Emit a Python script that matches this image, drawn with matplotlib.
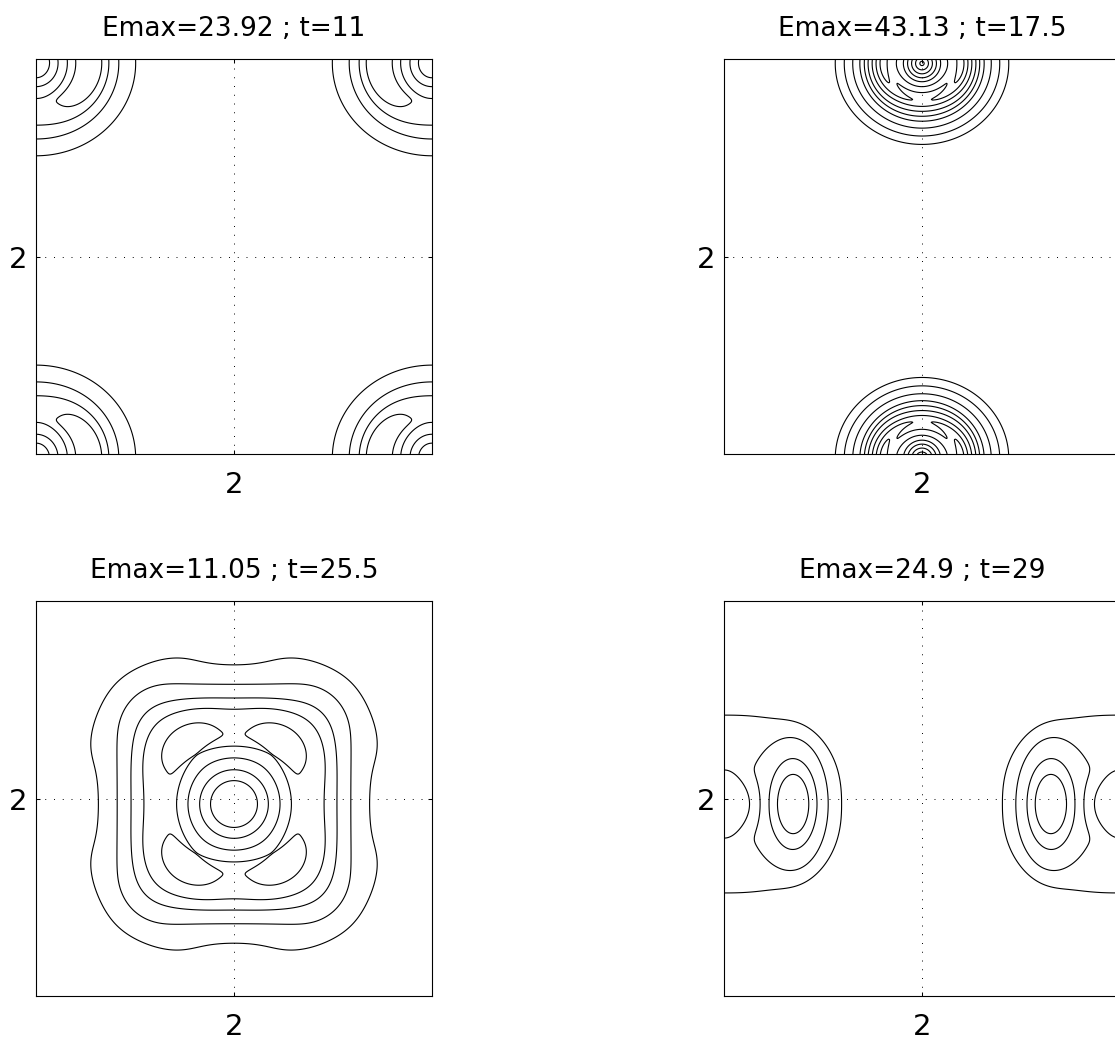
import numpy as np
import matplotlib
matplotlib.use("Agg")
import matplotlib.pyplot as plt

plt.rcParams["font.family"] = ["DejaVu Sans"]

# Snapshot headers
emax_values = [23.92, 43.13, 11.05, 24.9]
time_labels = ["11", "17.5", "25.5", "29"]
tick_values = [2.0]
tick_labels = ["2"]
box = 4.0

# Contour levels of each snapshot
levels_t11 = [0.942, 2.115, 3.506, 4.720, 6.390, 7.767]
levels_t17 = [1.055, 1.647, 2.491, 3.502, 4.365, 5.308, 6.516, 7.774,
              9.103, 10.146, 11.148, 12.263, 13.398, 14.424]
levels_t25 = [0.930, 1.888, 2.897, 3.781, 5.028, 6.167, 7.450, 8.740]
levels_t29 = [0.377, 0.625, 1.456, 2.706]

# Intensity components of each snapshot on the periodic box [0, 4] x [0, 4]
# core  : amplitude, x-width, y-width, exponent
# halo  : amplitude, x-width, y-width, superellipse power, fall-off order
# ring / lobes / bumps / dip : amplitude, radius, radial width,
#                              angular width (rad), angles in degrees (None = full ring)
# blobs : amplitude, x-width, y-width, offsets from the centre
snap_t11 = dict(centre=(0.0, -0.04),
                core=(6.0, 0.28, 0.31, 2.0),
                halo=(3.0, 0.88, 0.82, 2.0, 6.0),
                lobes=(3.0, 0.55, 0.20, 1.2, [0, 180]),
                dip=(1.5, 0.36, 0.05, 1.0, [0, 180]))
snap_t17 = dict(centre=(2.0, -0.045),
                core=(7.7, 0.20, 0.20, 1.5),
                halo=(7.0, 0.62, 0.58, 2.0, 5.0),
                ring=(0.78, 0.39, 0.05, None, None),
                lobes=(2.2, 0.41, 0.12, 0.9, [0, 180]),
                dip=(0.8, 0.325, 0.035, None, None))
snap_t25 = dict(centre=(2.0, 1.944),
                core=(5.5, 0.42, 0.42, 2.2),
                halo=(4.6, 1.12, 1.15, 4.5, 7.0),
                lobes=(1.35, 0.80, 0.20, 0.45, [53, 127, 233, 307]),
                bumps=(0.3, 1.55, 0.2, 0.3, [26, 64, 116, 154, 206, 244, 296, 334]),
                dip=(0.7, 0.63, 0.05, None, None))
snap_t29 = dict(centre=(0.0, 1.944),
                core=(0.55, 0.228, 0.228, 2.0),
                halo=(0.6, 1.3, 1.0, 2.5, 5.0),
                blobs=(4.0, 0.20, 0.38, [(0.70, 0.0), (-0.70, 0.0)]),
                dip=(0.3, 0.33, 0.09, 0.9, [0, 180]))

snapshots = [snap_t11, snap_t17, snap_t25, snap_t29]
levels = [levels_t11, levels_t17, levels_t25, levels_t29]


def wrap(d):
    """Shortest periodic offset inside the box."""
    return (d + box / 2) % box - box / 2


def ring_part(rho, th, spec):
    amp, r0, w, span, angles = spec
    radial = np.exp(-((rho - r0) / w) ** 2)
    if angles is None:
        return amp * radial
    ang = 0.0
    for a in angles:
        gap = np.angle(np.exp(1j * (th - np.deg2rad(a))))
        ang = ang + np.exp(-(gap / span) ** 2)
    return amp * radial * ang


def field(X, Y, spec):
    dx = wrap(X - spec["centre"][0])
    dy = wrap(Y - spec["centre"][1])
    rho = np.hypot(dx, dy)
    th = np.arctan2(dy, dx)
    amp, sx, sy, p = spec["core"]
    f = amp * np.exp(-((dx / sx) ** 2 + (dy / sy) ** 2) ** (p / 2))
    amp, hx, hy, q, n = spec["halo"]
    rq = (np.abs(dx / hx) ** q + np.abs(dy / hy) ** q) ** (1 / q)
    f = f + amp / (1 + rq ** n)
    for key, sign in (("ring", 1), ("lobes", 1), ("bumps", 1), ("dip", -1)):
        if key in spec:
            f = f + sign * ring_part(rho, th, spec[key])
    if "blobs" in spec:
        amp, wx, wy, offsets = spec["blobs"]
        for ox, oy in offsets:
            f = f + amp * np.exp(-((dx - ox) / wx) ** 2 - ((dy - oy) / wy) ** 2)
    return f


xs = np.linspace(0, box, 501)
X, Y = np.meshgrid(xs, xs)

fig = plt.figure(figsize=(11.15, 10.41), dpi=100)
W, H = 1115, 1041
# top-left pixel corner of each 396 x 395 axes box
corners = [(36, 59), (724, 59), (36, 601), (724, 601)]
for k, (spec, lv) in enumerate(zip(snapshots, levels)):
    x0, y0 = corners[k]
    ax = fig.add_axes([x0 / W, 1 - (y0 + 395) / H, 396 / W, 395 / H])
    ax.contour(X, Y, field(X, Y, spec), levels=lv, colors="k",
               linewidths=0.8, linestyles="solid")
    ax.set_xlim(0, box)
    ax.set_ylim(0, box)
    ax.set_xticks(tick_values)
    ax.set_xticklabels(tick_labels)
    ax.set_yticks(tick_values)
    ax.set_yticklabels(tick_labels)
    ax.tick_params(direction="in", length=3, width=0.75, top=True, right=True,
                   labelsize=21, color="k")
    ax.tick_params(axis="x", pad=12)
    ax.tick_params(axis="y", pad=6.5)
    ax.grid(True, color="k", linewidth=0.7, linestyle=(0, (1, 8)))
    for s in ax.spines.values():
        s.set_linewidth(0.8)
    ax.set_title(f"Emax={emax_values[k]} ; t={time_labels[k]}", fontsize=19, pad=16.6)

fig.savefig("out.png", dpi=100)
